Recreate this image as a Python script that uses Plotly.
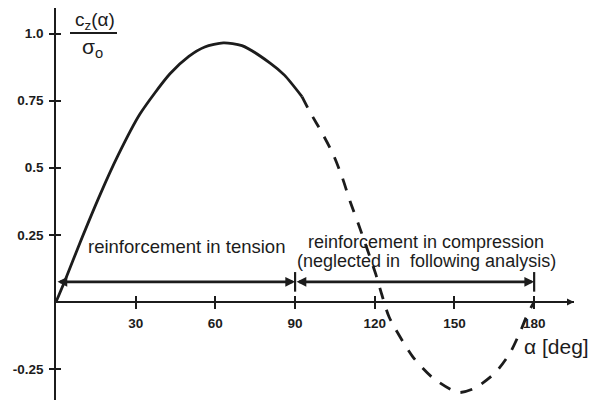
import plotly.graph_objects as go

# ---- data ----
alpha_solid = [0, 3.4, 9, 16.6, 23.3, 31.6, 42.9, 50, 56, 63, 70, 80.6, 86, 92.6]
cz_solid = [0.0, 0.08, 0.22, 0.40, 0.545, 0.70, 0.85, 0.915, 0.950, 0.965, 0.955, 0.89,
            0.845, 0.765]

alpha_dash = [92.6, 95.6, 100.2, 104.3, 107.7, 110.7, 113.7, 120.3, 122.7, 125.4, 134.4, 141.9,
              151.4, 157.8, 165.3, 170.9, 174.7, 177.7, 180]
cz_dash = [0.765, 0.708, 0.629, 0.551, 0.466, 0.375, 0.294, 0.106, 0.026, -0.056, -0.205, -0.283,
           -0.337, -0.32, -0.264, -0.19, -0.112, -0.041, 0.0]

x_ticks = [30, 60, 90, 120, 150, 180]
x_ticktext = ["30", "60", "90", "120", "150", "180"]
y_ticks = [-0.25, 0.25, 0.5, 0.75, 1.0]
y_ticktext = ["-0.25", "0.25", "0.5", "0.75", "1.0"]

arrow_level = 0.075
zone_bounds = [0, 90, 180]
label_tension = "reinforcement in tension"
label_comp_1 = "reinforcement in compression"
label_comp_2 = "(neglected in  following analysis)"

X_RANGE = [0, 195]
Y_RANGE = [-0.365, 1.095]

INK = "#1c1c1c"
FONT = "Liberation Sans, Arial, sans-serif"

# The page body has an 8px default margin, so the figure is drawn offset by 8px.
OFF = 8
WIN_W, WIN_H = 600, 402
W, H = WIN_W - OFF, WIN_H - OFF
# plot area in window pixels
L, R, T, B = 56, 574, 8, 400


def pxx(px):
    return (px - L) / (R - L)


def pxy(py):
    return (B - py) / (B - T)


x_pos = (0 - Y_RANGE[0]) / (Y_RANGE[1] - Y_RANGE[0])

fig = go.Figure()

fig.add_trace(go.Scatter(x=alpha_solid, y=cz_solid, mode="lines",
                         line=dict(color=INK, width=2.8, shape="spline", smoothing=0.7),
                         hoverinfo="skip", showlegend=False))
fig.add_trace(go.Scatter(x=alpha_dash, y=cz_dash, mode="lines",
                         line=dict(color=INK, width=2.8, shape="spline", smoothing=0.7,
                                   dash="12px,11px"),
                         hoverinfo="skip", showlegend=False))

# end bars of the dimension arrows
fig.add_trace(go.Scatter(x=zone_bounds[1:], y=[arrow_level] * 2, mode="markers",
                         marker=dict(symbol="line-ns", size=14, line=dict(color=INK, width=2.2)),
                         hoverinfo="skip", showlegend=False))

annotations = []
# dimension arrows
for a0, a1 in zip(zone_bounds[:-1], zone_bounds[1:]):
    annotations.append(dict(x=a1, y=arrow_level, ax=a0, ay=arrow_level, xref="x", yref="y",
                            axref="x", ayref="y", text="", showarrow=True, arrowhead=2,
                            arrowside="end+start", arrowsize=0.75, arrowwidth=2.6,
                            arrowcolor=INK, standoff=0, startstandoff=0))
# x-axis arrowhead
annotations.append(dict(x=X_RANGE[1], y=0, ax=X_RANGE[1] - 8, ay=0, xref="x", yref="y",
                        axref="x", ayref="y", text="", showarrow=True, arrowhead=2,
                        arrowsize=1.0, arrowwidth=1.4, arrowcolor=INK, standoff=0))


def label(px, py, text, size):
    return dict(x=pxx(px), y=pxy(py), xref="paper", yref="paper", text=text,
                xanchor="center", yanchor="middle", showarrow=False,
                font=dict(family=FONT, size=size, color=INK))


annotations += [
    label(186, 246, label_tension, 18.5),
    label(426, 242, label_comp_1, 18),
    label(426, 261, label_comp_2, 18),
    label(556, 346, "α [deg]", 21),
    label(95, 21, "c<sub>z</sub>(α)", 19),
    label(92, 48, "σ<sub>o</sub>", 21),
]

shapes = [dict(type="line", xref="paper", yref="paper", x0=pxx(70), x1=pxx(117),
               y0=pxy(33), y1=pxy(33), line=dict(color=INK, width=2))]

tickfont = dict(family=FONT, size=13.5, color=INK, weight="bold")

fig.update_layout(
    width=W, height=H,
    margin=dict(l=L - OFF, r=WIN_W - R, t=T - OFF, b=WIN_H - B, autoexpand=False),
    paper_bgcolor="white", plot_bgcolor="white",
    showlegend=False,
    annotations=annotations,
    shapes=shapes,
    xaxis=dict(range=X_RANGE, anchor="free", position=x_pos, showline=True, linecolor=INK,
               linewidth=1.5, ticks="outside", ticklen=6, tickwidth=1.5, tickcolor=INK,
               tickvals=x_ticks, ticktext=x_ticktext, tickfont=tickfont,
               showgrid=False, zeroline=False, ticklabelstandoff=3),
    xaxis2=dict(range=X_RANGE, overlaying="x", anchor="free", position=x_pos, showline=False,
                ticks="inside", ticklen=6, tickwidth=1.5, tickcolor=INK, tickvals=x_ticks,
                showticklabels=False, showgrid=False, zeroline=False),
    yaxis=dict(range=Y_RANGE, showline=True, linecolor=INK, linewidth=1.5, ticks="outside",
               ticklen=5, tickwidth=1.5, tickcolor=INK, tickvals=y_ticks, ticktext=y_ticktext,
               tickfont=tickfont, showgrid=False, zeroline=False, ticklabelstandoff=3),
    yaxis2=dict(range=Y_RANGE, overlaying="y", anchor="x", ticks="inside", ticklen=5,
                tickwidth=1.5, tickcolor=INK, tickvals=y_ticks, showticklabels=False,
                showgrid=False, zeroline=False, showline=False),
)

# invisible helper trace so the overlay axes (second tick halves) are drawn
fig.add_trace(go.Scatter(x=[None], y=[None], xaxis="x2", yaxis="y2", mode="lines",
                         hoverinfo="skip", showlegend=False))

fig.write_html("out.html")
